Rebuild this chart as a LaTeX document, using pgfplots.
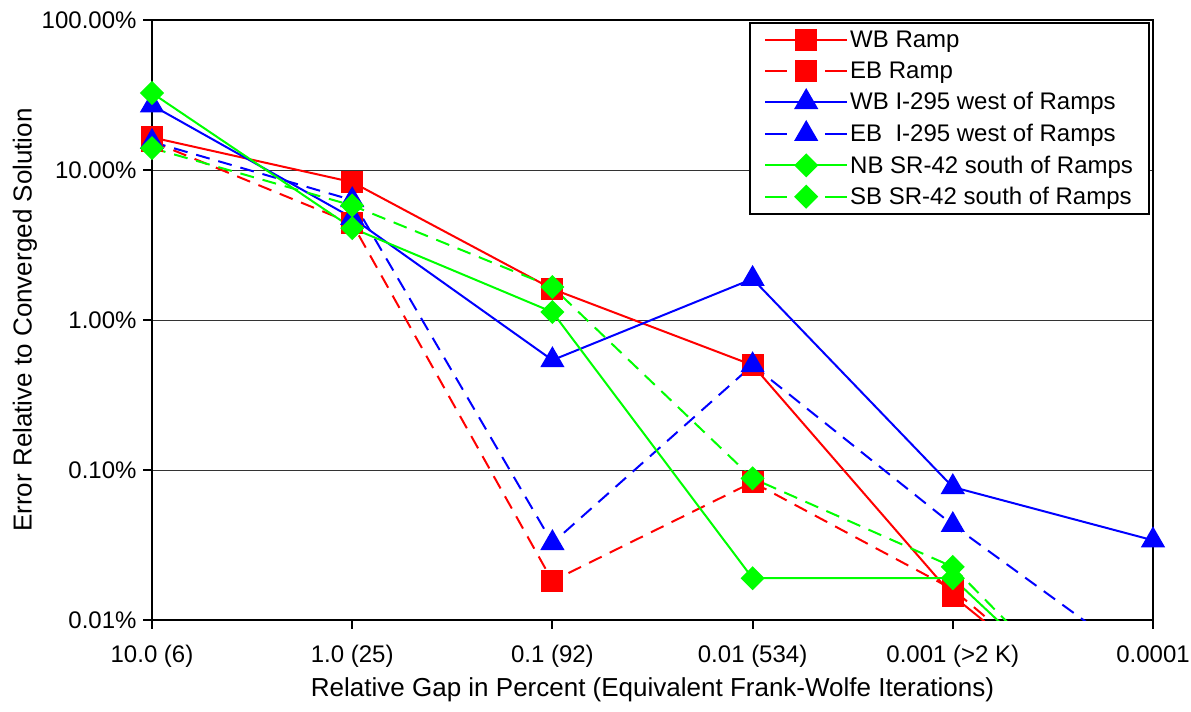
\documentclass[border=0pt]{standalone}
\usepackage{pgfplots}
\pgfplotsset{compat=1.18}
\usepackage{fontspec}
\setmainfont{Liberation Sans}
\definecolor{cR}{RGB}{255,0,0}
\definecolor{cB}{RGB}{0,0,255}
\definecolor{cG}{RGB}{0,255,0}
\pgfplotsset{dashleg/.style={legend image code/.code={\draw[mark repeat=2,mark phase=2,##1,dash pattern=on 22pt off 38pt] plot coordinates {(0pt,0pt)(41pt,0pt)(82pt,0pt)};}}}
\begin{document}
\begin{tikzpicture}
\begin{axis}[
 name=ax,
 scale only axis, width=1001pt, height=600pt,
 ymode=log, ymin=0.01, ymax=100,
 xmin=0, xmax=5,
 xtick={0,1,2,3,4,5},
 xticklabels={10.0 (6),1.0 (25),0.1 (92),0.01 (534),0.001 (>2 K),0.0001},
 ytick={0.01,0.1,1,10,100},
 yticklabels={0.01\%,0.10\%,1.00\%,10.00\%,100.00\%},
 yminorticks=false,
 tick pos=left,
 tick align=outside,
 major tick length=9pt,
 major tick style={black, line width=2pt},
 ymajorgrids, major grid style={black!80, line width=1pt},
 axis line style={line width=2pt},
 tick label style={font=\fontsize{24}{28}\selectfont},
 xticklabel style={yshift=-13pt},
 yticklabel style={xshift=-3pt},
 label style={font=\fontsize{26}{30}\selectfont},
 xlabel={Relative Gap in Percent (Equivalent Frank-Wolfe Iterations)},
 ylabel={Error Relative to Converged Solution},
 xlabel style={at={(axis description cs:0.5,-0.1167)}, anchor=center},
 ylabel style={at={(axis description cs:-0.1269,0.5)}, anchor=center},
 legend style={at={(1,1)}, anchor=north east, xshift=-3pt, yshift=-2pt, draw=black, line width=2pt,
   font=\fontsize{24}{28}\selectfont, row sep=8.5pt, inner xsep=14pt, inner ysep=6pt},
 legend cell align=left,
 legend image code/.code={\draw[mark repeat=2,mark phase=2,#1] plot coordinates {(0pt,0pt)(41pt,0pt)(82pt,0pt)};},
 every axis plot/.append style={line width=2pt},
]
\addplot[cR, mark=square*, mark size=10pt, mark options={solid}] coordinates {
(0,16.5) (1,8.3) (2,1.61) (3,0.50) (4,0.0145) (5,0.0012)};
\addlegendentry{WB Ramp}
\addplot[cR, dash pattern=on 14pt off 9pt, mark=square*, mark size=10pt, mark options={solid}, dashleg] coordinates {
(0,15.5) (1,4.4) (2,0.0182) (3,0.083) (4,0.016) (5,0.0012)};
\addlegendentry{EB Ramp}
\addplot[cB, mark=triangle*, mark size=12pt, mark options={solid}] coordinates {
(0,27) (1,4.8) (2,0.54) (3,1.88) (4,0.077) (5,0.034)};
\addlegendentry{WB I-295 west of Ramps}
\addplot[cB, dash pattern=on 14pt off 9pt, mark=triangle*, mark size=12pt, mark options={solid}, dashleg] coordinates {
(0,15.4) (1,6.3) (2,0.0326) (3,0.50) (4,0.043) (5,0.0046)};
\addlegendentry{EB\ \ I-295 west of Ramps}
\addplot[cG, mark=square*, mark size=7.5pt, mark options={solid, rotate=45}] coordinates {
(0,32.6) (1,4.1) (2,1.13) (3,0.019) (4,0.019) (5,0.00106)};
\addlegendentry{NB SR-42 south of Ramps}
\addplot[cG, dash pattern=on 14pt off 9pt, mark=square*, mark size=7.5pt, mark options={solid, rotate=45}, dashleg] coordinates {
(0,14) (1,5.8) (2,1.66) (3,0.088) (4,0.0226) (5,0.001)};
\addlegendentry{SB SR-42 south of Ramps}
\end{axis}
\pgfresetboundingbox
\path[use as bounding box] ([shift={(-152pt,-91pt)}]ax.south west) rectangle ([shift={(38pt,20pt)}]ax.north east);
\end{tikzpicture}
\end{document}
